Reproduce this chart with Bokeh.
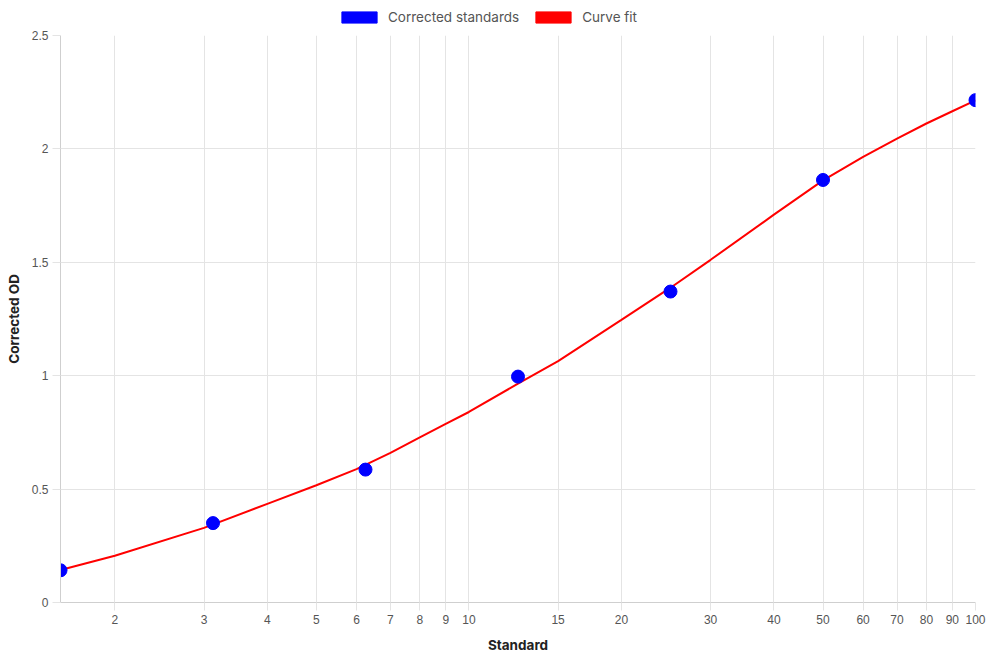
from bokeh.plotting import figure
from bokeh.layouts import column
from bokeh.models import (FixedTicker, PrintfTickFormatter, CustomJSTickFormatter,
                          Legend, LegendItem, Range1d)
from bokeh.embed import file_html
from bokeh.resources import INLINE

# Data
standards = [1.5625, 3.125, 6.25, 12.5, 25, 50, 100]
corrected_od = [0.142, 0.350, 0.586, 0.996, 1.371, 1.863, 2.215]

fit_x = [1.5625, 2, 3, 4, 5, 6, 7, 8, 9, 10, 12.5, 15, 20, 25, 30, 40, 50, 60, 70, 80, 90, 100]
fit_y = [0.143, 0.206, 0.329, 0.435, 0.517, 0.588, 0.660, 0.728, 0.788, 0.840, 0.965, 1.064,
         1.246, 1.388, 1.511, 1.710, 1.861, 1.965, 2.045, 2.112, 2.166, 2.214]

x_ticks = [2, 3, 4, 5, 6, 7, 8, 9, 10, 15, 20, 30, 40, 50, 60, 70, 80, 90, 100]
y_ticks = [0, 0.5, 1, 1.5, 2, 2.5]
series_names = ["Corrected standards", "Curve fit"]
series_colors = ["#0000ff", "#ff0000"]

GRID = "#e4e4e4"
TICK_FONT = "Liberation Sans"
TITLE_FONT = "Inter"

# ---- legend strip ----
lg = figure(width=990, height=27, output_backend="svg", toolbar_location=None,
            x_range=Range1d(0, 1), y_range=Range1d(0, 1),
            x_axis_location=None, y_axis_location=None,
            min_border_left=0, min_border_right=0, min_border_top=0, min_border_bottom=0)
lg.outline_line_color = None
lg.xgrid.visible = False
lg.ygrid.visible = False
items = []
for name, col in zip(series_names, series_colors):
    r = lg.quad(left=[5], right=[6], top=[5], bottom=[4], fill_color=col, line_color=col)
    items.append(LegendItem(label=name, renderers=[r]))
legend = Legend(items=items, orientation="horizontal", location=(277, 2),
                glyph_width=44, glyph_height=14, label_standoff=7, spacing=12,
                label_text_font=TITLE_FONT, label_text_font_size="13.5px",
                label_text_color="#555555", border_line_color=None,
                background_fill_alpha=0, padding=0, margin=0, label_height=14)
lg.add_layout(legend, "center")

# ---- main chart ----
p = figure(width=990, height=633, x_axis_type="log", output_backend="svg",
           toolbar_location=None, x_range=Range1d(1.5625, 100), y_range=Range1d(0, 2.5),
           min_border_left=60, min_border_right=15, min_border_top=8, min_border_bottom=58)
p.outline_line_color = None
p.background_fill_color = "white"

p.line(fit_x, fit_y, line_color=series_colors[1], line_width=2)
p.scatter(standards, corrected_od, size=13, fill_color=series_colors[0], line_color=series_colors[0])

xa = p.xaxis[0]
xa.ticker = FixedTicker(ticks=x_ticks)
xa.formatter = PrintfTickFormatter(format="%d")
ya = p.yaxis[0]
ya.ticker = FixedTicker(ticks=y_ticks)
ya.formatter = CustomJSTickFormatter(code="return String(tick);")

for ax in (xa, ya):
    ax.axis_line_color = "#cfcfcf"
    ax.major_tick_line_color = GRID
    ax.major_tick_out = 8
    ax.major_tick_in = 0
    ax.minor_tick_line_color = None
    ax.major_label_text_font = TICK_FONT
    ax.major_label_text_font_size = "12px"
    ax.major_label_text_color = "#555555"
    ax.major_label_standoff = 4
    ax.axis_label_text_font = TITLE_FONT
    ax.axis_label_text_font_style = "bold"
    ax.axis_label_text_font_size = "13.5px"
    ax.axis_label_text_color = "#222222"

xa.axis_label = "Standard"
xa.axis_label_standoff = 10
ya.axis_label = "Corrected OD"
ya.axis_label_standoff = 7

p.xgrid.ticker = FixedTicker(ticks=x_ticks)
p.ygrid.ticker = FixedTicker(ticks=y_ticks)
p.xgrid.grid_line_color = GRID
p.ygrid.grid_line_color = GRID

layout = column(lg, p, spacing=0)
open("out.html", "w").write(file_html(layout, INLINE))
